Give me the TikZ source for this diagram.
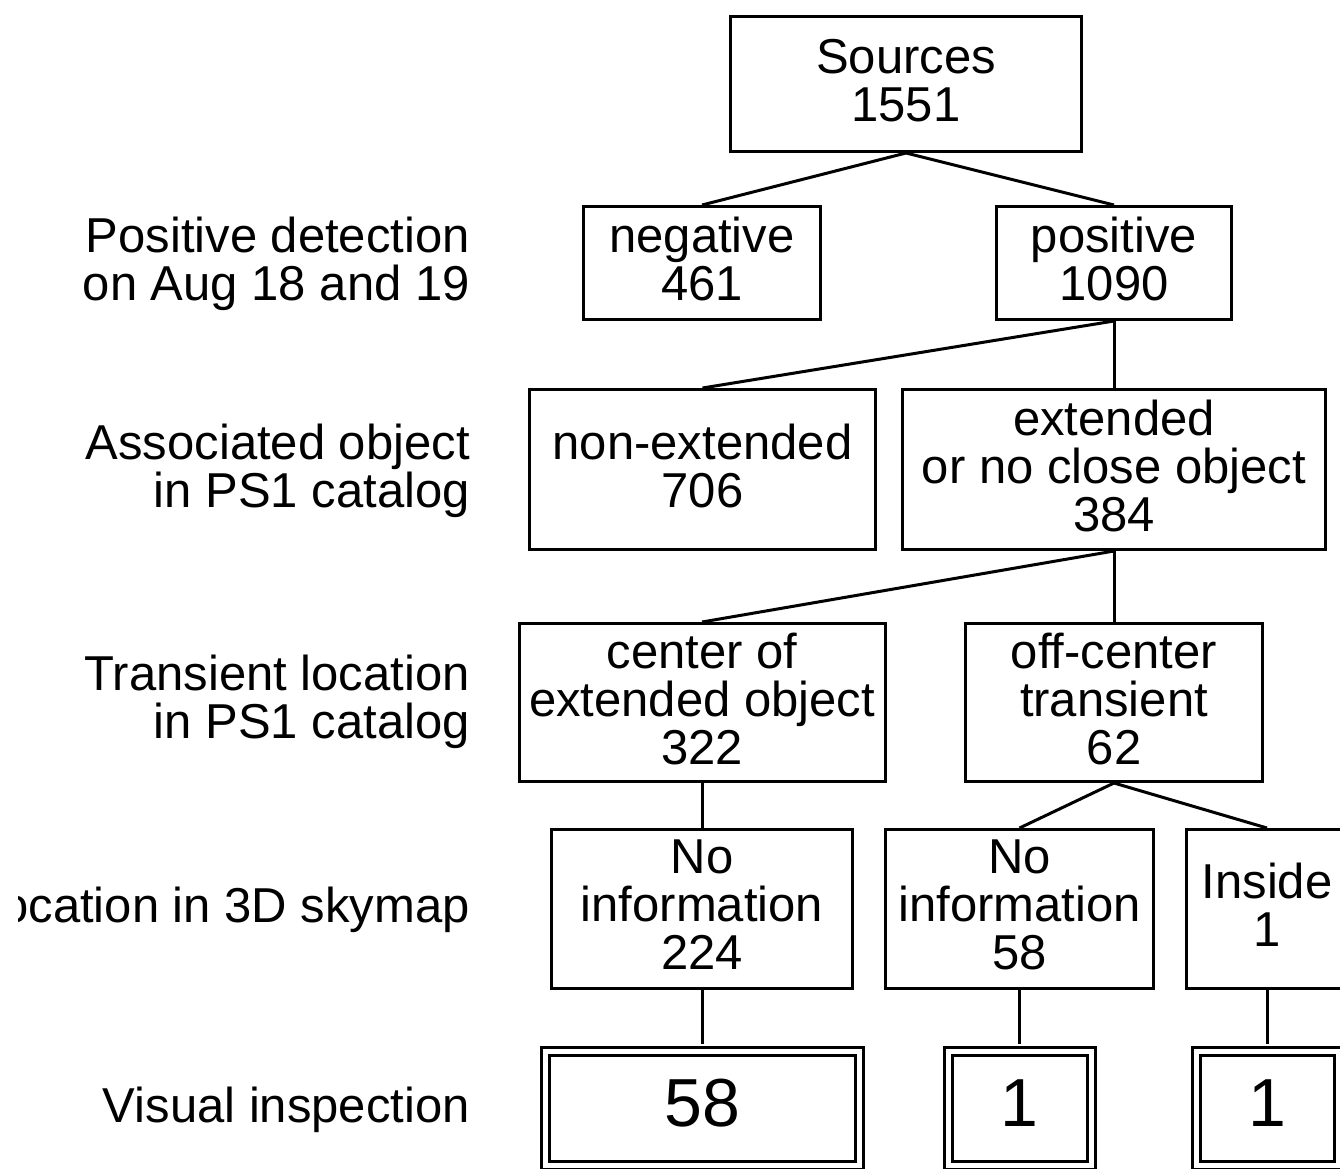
\documentclass[tikz,border=0pt]{standalone}
\usepackage{fontspec}
\setmainfont{Liberation Sans}
\begin{document}
\begin{tikzpicture}[x=1pt,y=-1pt,
  box/.style={draw, line width=3pt, inner sep=0pt, align=center, text depth=8pt,
    font=\fontsize{49}{48}\selectfont},
  vbox/.style={draw, line width=3pt, double, double distance=5pt, inner sep=0pt,
    align=center, text depth=10pt, font=\fontsize{68}{68}\selectfont},
  lab/.style={anchor=east, align=right, inner sep=0pt,
    font=\fontsize{49}{48}\selectfont},
  conn/.style={line width=3pt},
  conv/.style={line width=3pt, shorten >=5.5pt}]
\useasboundingbox (0,0) rectangle (1340,1168);
\clip (18,0) rectangle (1340,1168);
% boxes
\node[box, minimum width=351, minimum height=135] (src) at (906,84) {Sources\\1551};
\node[box, minimum width=237, minimum height=113] (neg) at (702,263) {negative\\461};
\node[box, minimum width=235, minimum height=113] (pos) at (1114,263) {positive\\1090};
\node[box, minimum width=346, minimum height=160] (nonext) at (702.5,469.5) {non-extended\\706};
\node[box, minimum width=423, minimum height=160] (ext) at (1114,469.5) {extended\\or no close object\\384};
\node[box, minimum width=366, minimum height=158] (cen) at (702,702.5) {center of\\extended object\\322};
\node[box, minimum width=297, minimum height=158] (off) at (1114,702.5) {off-center\\transient\\62};
\node[box, minimum width=301, minimum height=159] (ni1) at (702,909) {No\\information\\224};
\node[box, minimum width=268, minimum height=159] (ni2) at (1019.5,909) {No\\information\\58};
\node[box, minimum width=161, minimum height=159] (ins) at (1267,909) {Inside\\1};
\node[vbox, minimum width=314, minimum height=114] (v1) at (702,1108) {58};
\node[vbox, minimum width=143, minimum height=114] (v2) at (1019.5,1108) {1};
\node[vbox, minimum width=142, minimum height=114] (v3) at (1267,1108) {1};
% labels
\node[lab] (l1) at (470,264) {Positive detection\\on Aug 18 and 19};
\node[lab] (l2) at (470,470.5) {Associated object\\in PS1 catalog};
\node[lab] (l3) at (470,701.5) {Transient location\\in PS1 catalog};
\node[lab] (l4) at (470,910) {Location in 3D skymap};
\node[lab] (l5) at (470,1110) {Visual inspection};
% connectors
\draw[conn] (src.south) -- (neg.north);
\draw[conn] (src.south) -- (pos.north);
\draw[conn] (pos.south) -- (nonext.north);
\draw[conn] (pos.south) -- (ext.north);
\draw[conn] (ext.south) -- (cen.north);
\draw[conn] (ext.south) -- (off.north);
\draw[conn] (cen.south) -- (ni1.north);
\draw[conn] (off.south) -- (ni2.north);
\draw[conn] (off.south) -- (ins.north);
\draw[conv] (ni1.south) -- (v1.north);
\draw[conv] (ni2.south) -- (v2.north);
\draw[conv] (ins.south) -- (v3.north);
\end{tikzpicture}
\end{document}
